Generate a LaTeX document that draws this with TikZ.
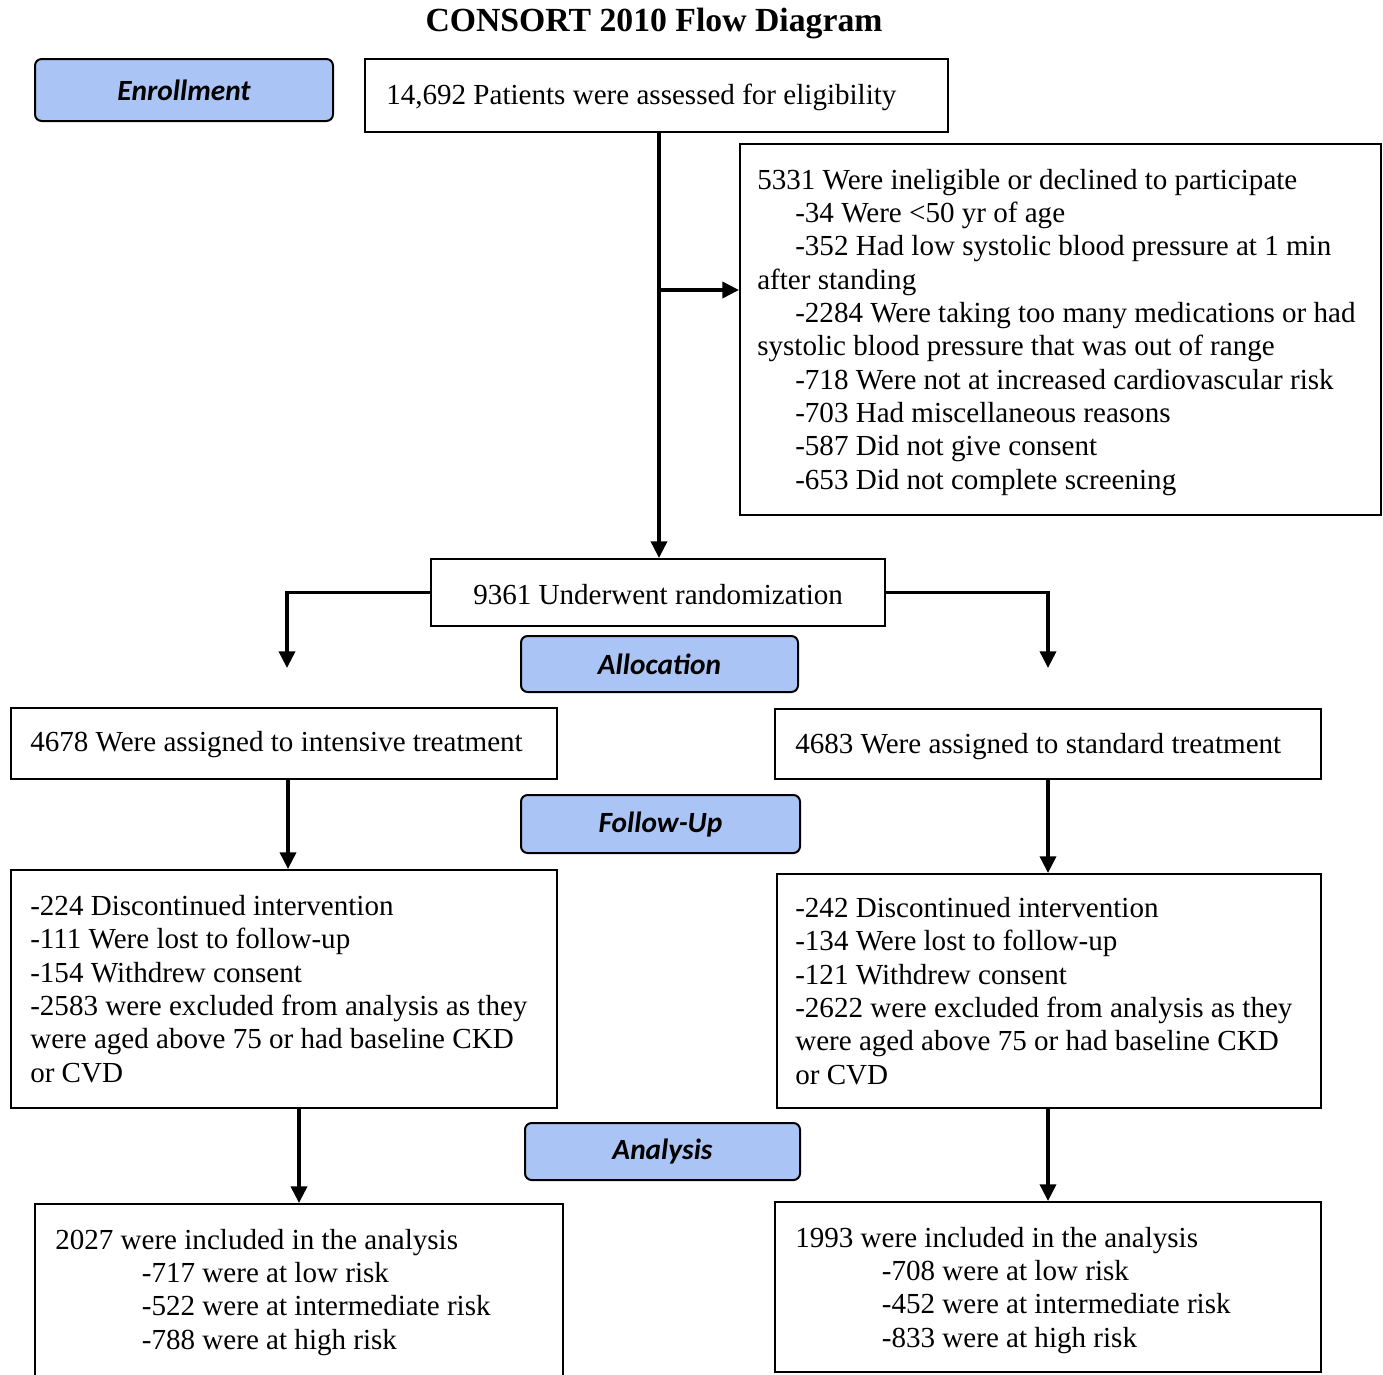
\documentclass[tikz,border=0pt]{standalone}
\usepackage{fontspec}
\setmainfont{Liberation Serif}
\newfontfamily\phasefont{Carlito}
\usetikzlibrary{arrows.meta,fit}
\definecolor{phaseblue}{RGB}{170,197,245}
\begin{document}
\begin{tikzpicture}[x=0.75pt,y=-0.75pt,
  box/.style={draw,line width=1.5pt,inner sep=0pt},
  phase/.style={draw,line width=1.5pt,fill=phaseblue,rounded corners=5pt,inner sep=0pt,font=\phasefont\bfseries\itshape\fontsize{22}{25}\selectfont},
  txt/.style={anchor=base west,inner sep=0pt,align=left,font=\fontsize{21.8}{25}\selectfont},
  flow/.style={line width=2.7pt,-{Triangle[length=12.5pt,width=12pt]}},
  link/.style={line width=2pt}]
\useasboundingbox (0,0) rectangle (1383,1374);
\clip (0,0) rectangle (1383,1374);
\node[font=\bfseries\fontsize{25.3}{30}\selectfont,inner sep=0pt] (title) at (654,24) {CONSORT 2010 Flow Diagram};
% phase labels
\node[phase,minimum width=223.5pt,minimum height=46.5pt] (enr) at (184,90) {Enrollment};
\node[phase,minimum width=207.75pt,minimum height=42pt] (alloc) at (659.5,664) {Allocation};
\node[phase,minimum width=209.25pt,minimum height=43.5pt] (fol) at (660.5,824) {Follow-Up};
\node[phase,minimum width=206.25pt,minimum height=42.75pt] (ana) at (662.5,1151.5) {Analysis};
% boxes
\node[box,fit={(365,59) (948,132)}] (assess) {};
\node[box,fit={(740,144) (1381,515)}] (excl) {};
\node[box,fit={(431,559) (885,626)}] (rand) {};
\node[box,fit={(11,708) (557,779)}] (int) {};
\node[box,fit={(775,709) (1321,779)}] (std) {};
\node[box,fit={(11,870) (557,1108)}] (lfu) {};
\node[box,fit={(777,874) (1321,1108)}] (rfu) {};
\node[box,fit={(35,1204) (563,1400)}] (lan) {};
\node[box,fit={(775,1202) (1321,1372)}] (ran) {};
% texts (anchor = baseline of the last line)
\node[txt] (tassess) at (386,104) {14,692 Patients were assessed for eligibility};
\node[txt] (texcl) at (757,489) {5331 Were ineligible or declined to participate\\
\hspace*{28.5pt}-34 Were <50 yr of age\\
\hspace*{28.5pt}-352 Had low systolic blood pressure at 1 min\\
after standing\\
\hspace*{28.5pt}-2284 Were taking too many medications or had\\
systolic blood pressure that was out of range\\
\hspace*{28.5pt}-718 Were not at increased cardiovascular risk\\
\hspace*{28.5pt}-703 Had miscellaneous reasons\\
\hspace*{28.5pt}-587 Did not give consent\\
\hspace*{28.5pt}-653 Did not complete screening};
\node[txt] (trand) at (473,604) {9361 Underwent randomization};
\node[txt] (tint) at (30,751) {4678 Were assigned to intensive treatment};
\node[txt] (tstd) at (795,753) {4683 Were assigned to standard treatment};
\node[txt] (tlfu) at (30,1082) {-224 Discontinued intervention\\
-111 Were lost to follow-up\\
-154 Withdrew consent\\
-2583 were excluded from analysis as they\\
were aged above 75 or had baseline CKD\\
or CVD};
\node[txt] (trfu) at (795,1084) {-242 Discontinued intervention\\
-134 Were lost to follow-up\\
-121 Withdrew consent\\
-2622 were excluded from analysis as they\\
were aged above 75 or had baseline CKD\\
or CVD};
\node[txt] (tlan) at (55,1349) {2027 were included in the analysis\\
\hspace*{65pt}-717 were at low risk\\
\hspace*{65pt}-522 were at intermediate risk\\
\hspace*{65pt}-788 were at high risk};
\node[txt] (tran) at (795,1347) {1993 were included in the analysis\\
\hspace*{65pt}-708 were at low risk\\
\hspace*{65pt}-452 were at intermediate risk\\
\hspace*{65pt}-833 were at high risk};
% connectors
\coordinate (xm) at (659,0);
\coordinate (xl) at (288,0);
\coordinate (xll) at (287,0);
\coordinate (xr) at (1048,0);
\coordinate (yb) at (0,290);
\coordinate (ya) at (0,668);
\draw[flow] (assess.south -| xm) -- (rand.north -| xm);
\coordinate (br) at (xm |- yb);
\draw[flow] (br) -- (br -| excl.west);
\coordinate (lt) at (xll |- ya);
\coordinate (rt) at (xr |- ya);
\draw[flow] (rand.west) -| (lt);
\draw[flow] (rand.east) -| (rt);
\draw[flow] (int.south -| xl) -- (lfu.north -| xl);
\draw[flow] (std.south -| xr) -- (rfu.north -| xr);
\draw[flow] (lfu.south -| lan.north) -- (lan.north);
\draw[flow] (rfu.south -| xr) -- (ran.north -| xr);
\end{tikzpicture}
\end{document}
